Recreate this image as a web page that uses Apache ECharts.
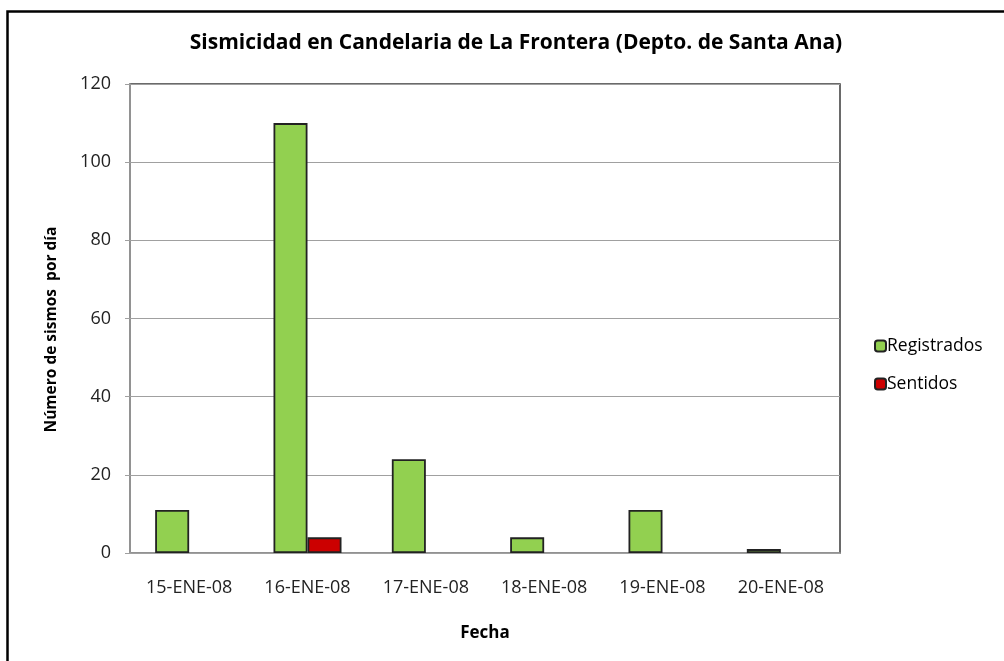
<!DOCTYPE html>
<html>
<head>
<meta charset="utf-8">
<script src="https://cdn.jsdelivr.net/npm/echarts@6/dist/echarts.min.js"></script>
<style>html,body{margin:0;padding:0;background:#fff}#c{width:1004px;height:661px}</style>
</head>
<body>
<div id="c"></div>
<script>
var categories = ['15-ENE-08','16-ENE-08','17-ENE-08','18-ENE-08','19-ENE-08','20-ENE-08'];
var registrados = [11, 110, 24, 4, 11, 1];
var sentidos = [0, 4, 0, 0, 0, 0];
var yTicks = {min: 0, max: 120, interval: 20};

function hideZero(arr) { return arr.map(function (v) { return v === 0 ? '-' : v; }); }

var FONT = 'Open Sans';
var chart = echarts.init(document.getElementById('c'), null, {renderer: 'canvas'});
chart.setOption({
  backgroundColor: '#fff',
  animation: false,
  title: {
    text: 'Sismicidad en Candelaria de La Frontera (Depto. de Santa Ana)',
    left: 511, top: 28, textAlign: 'center',
    textStyle: {fontFamily: FONT, fontWeight: 'bold', fontSize: 21, color: '#000'}
  },
  legend: {
    orient: 'vertical', left: 869, top: 332, itemGap: 20,
    itemWidth: 11, itemHeight: 11,
    textStyle: {fontFamily: FONT, fontSize: 17.5, color: '#000', padding: [0,0,0,-4]},
    data: ['Registrados','Sentidos']
  },
  grid: {left: 130, right: 164, top: 84, bottom: 108, show: true, borderColor: '#3a3a3a', borderWidth: 1.5, containLabel: false},
  xAxis: {
    type: 'category', data: categories,
    name: 'Fecha', nameLocation: 'middle', nameGap: 72,
    nameTextStyle: {fontFamily: FONT, fontWeight: 'bold', fontSize: 17, color: '#000'},
    axisLine: {lineStyle: {color: '#a0a0a0', width: 1.5}},
    axisTick: {show: false},
    axisLabel: {fontFamily: FONT, fontSize: 18, color: '#222', margin: 26}
  },
  yAxis: {
    type: 'value', min: yTicks.min, max: yTicks.max, interval: yTicks.interval,
    name: 'Número de sismos  por día', nameLocation: 'middle', nameGap: 70,
    nameTextStyle: {fontFamily: FONT, fontWeight: 'bold', fontSize: 15.5, color: '#000', padding: [0, 22, 0, 0]},
    axisLine: {show: true, lineStyle: {color: '#a0a0a0', width: 1.5}},
    axisTick: {show: true, length: 5, lineStyle: {color: '#a0a0a0'}},
    splitLine: {lineStyle: {color: '#a0a0a0', width: 1.2}},
    axisLabel: {fontFamily: FONT, fontSize: 18, color: '#222', margin: 19}
  },
  series: [
    {name: 'Registrados', type: 'bar', data: hideZero(registrados), barWidth: 34, barGap: '0%',
     itemStyle: {color: '#92D050', borderColor: '#222', borderWidth: 1.8}},
    {name: 'Sentidos', type: 'bar', data: hideZero(sentidos), barWidth: 34, barGap: '0%',
     itemStyle: {color: '#CC0000', borderColor: '#222', borderWidth: 1.8}}
  ],
  graphic: [{type: 'rect', left: 5, top: 9, shape: {width: 1010, height: 670},
    style: {fill: null, stroke: '#000', lineWidth: 2.5}, silent: true}]
});
</script>
</body>
</html>
